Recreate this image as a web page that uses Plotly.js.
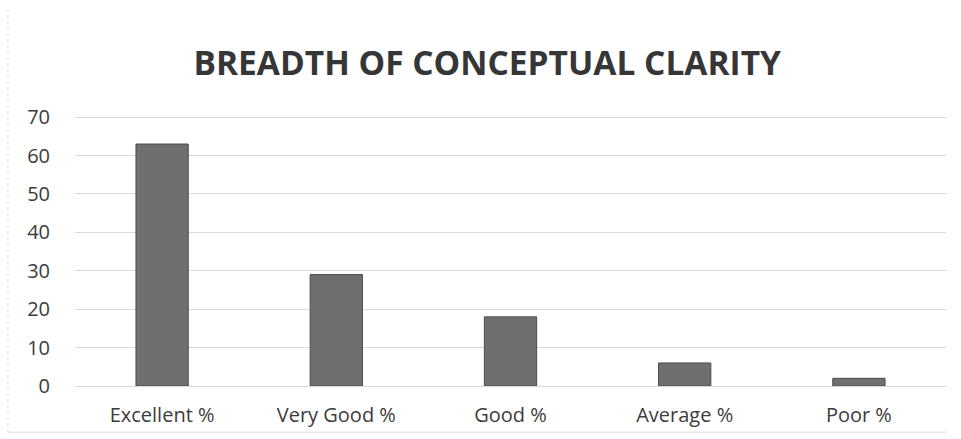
<!DOCTYPE html>
<html>
<head>
<meta charset="utf-8">
<script src="https://cdn.plot.ly/plotly-3.0.1.min.js"></script>
<style>html,body{margin:0;padding:0;background:#fff;}</style>
</head>
<body>
<div id="chart" style="width:961px;height:439px;"></div>
<script>
const categories = ["Excellent %", "Very Good %", "Good %", "Average %", "Poor %"];
const values = [63, 29, 18, 6, 2];
const yTicks = [0, 10, 20, 30, 40, 50, 60, 70];
const chartTitle = "BREADTH OF CONCEPTUAL CLARITY";

const trace = {
  type: 'bar',
  x: categories,
  y: values,
  marker: {color: '#6f6f6f', line: {color: '#4a4a4a', width: 1}},
  width: 0.3,
  hoverinfo: 'x+y'
};

const layout = {
  width: 961, height: 439,
  margin: {l: 75, r: 15, t: 116, b: 53},
  paper_bgcolor: '#ffffff', plot_bgcolor: '#ffffff',
  font: {family: '"Open Sans", sans-serif', color: '#3c3c3c', size: 20},
  title: {
    text: '<b>' + chartTitle + '</b>',
    font: {family: '"Open Sans", sans-serif', size: 33.5, color: '#363636'},
    x: 0.507, xref: 'container', xanchor: 'center',
    y: 0.855, yref: 'container', yanchor: 'middle'
  },
  xaxis: {
    type: 'category',
    showgrid: false, zeroline: false, showline: false,
    ticks: '', tickfont: {size: 20, color: '#3c3c3c'},
    ticklabelstandoff: 15
  },
  yaxis: {
    range: [0, 70.3],
    tickvals: yTicks,
    showgrid: true, gridcolor: '#d9d9d9', gridwidth: 1,
    zeroline: true, zerolinecolor: '#d9d9d9', zerolinewidth: 1,
    showline: false, ticks: '',
    tickfont: {size: 20, color: '#3c3c3c'},
    ticklabelstandoff: 24
  },
  shapes: [
    {type: 'line', xref: 'paper', yref: 'paper', x0: -0.077, x1: -0.077, y0: -0.171, y1: 1.4,
     line: {color: '#dcdcdc', width: 1, dash: 'dot'}},
    {type: 'line', xref: 'paper', yref: 'paper', x0: -0.077, x1: 1.0, y0: -0.171, y1: -0.171,
     line: {color: '#dcdcdc', width: 1}}
  ],
  showlegend: false,
  bargap: 0.7
};

Plotly.newPlot('chart', [trace], layout, {displayModeBar: false, staticPlot: true});
</script>
</body>
</html>
